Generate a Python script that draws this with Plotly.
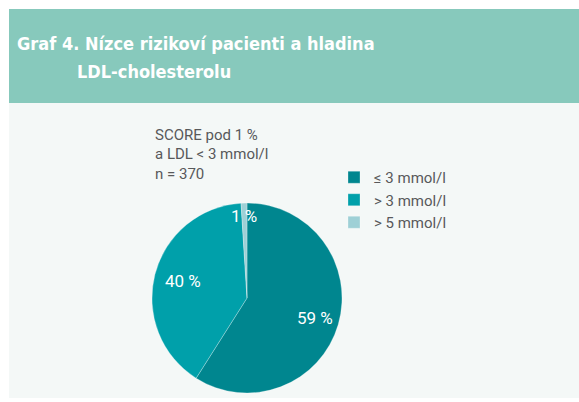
import math
import plotly.graph_objects as go

W, H = 579, 402

categories = ["≤ 3 mmol/l", "> 3 mmol/l", "> 5 mmol/l"]
values = [59, 40, 1]
slice_labels = ["59 %", "40 %", "1 %"]
colors = ["#00868f", "#00a0aa", "#9ed0d6"]

title_line1 = "Graf 4. Nízce rizikoví pacienti a hladina"
title_line2 = "LDL-cholesterolu"
note_lines = ["SCORE pod 1 %", "a LDL < 3 mmol/l", "n = 370"]

def px(x):
    return x / W

def py(y):
    return 1 - y / H

# pie geometry (pixels)
cx, cy, R = 247, 298, 95
label_radius = [0.74, 0.70, 0.86]

fig = go.Figure()
fig.add_trace(go.Pie(
    labels=categories,
    values=values,
    textinfo="none",
    marker=dict(colors=colors, line=dict(width=0.6, color="rgba(255,255,255,0.45)")),
    sort=False,
    direction="clockwise",
    rotation=0,
    domain=dict(x=[px(cx - R), px(cx + R)], y=[py(cy + R), py(cy - R)]),
    showlegend=True,
    hoverinfo="skip",
))

shapes = [
    dict(type="rect", xref="paper", yref="paper", x0=px(9), x1=px(579), y0=py(103), y1=py(9),
         fillcolor="#87c9bc", line=dict(width=0), layer="below"),
    dict(type="rect", xref="paper", yref="paper", x0=px(9), x1=px(579), y0=py(398), y1=py(103),
         fillcolor="#f4f8f7", line=dict(width=0), layer="below"),
]

title_font = dict(size=18, color="white", family="DejaVu Sans Condensed, DejaVu Sans")
annotations = [
    dict(text="<b>" + title_line1 + "</b>", x=px(15), y=py(43), xref="paper", yref="paper",
         xanchor="left", yanchor="middle", showarrow=False, font=title_font),
    dict(text="<b>" + title_line2 + "</b>", x=px(75), y=py(72), xref="paper", yref="paper",
         xanchor="left", yanchor="middle", showarrow=False, font=title_font),
]
for i, line in enumerate(note_lines):
    annotations.append(dict(text=line, x=px(153), y=py(135 + 19.5 * i), xref="paper", yref="paper",
                            xanchor="left", yanchor="middle", showarrow=False,
                            font=dict(size=15, color="#58595b", family="Roboto")))

# slice labels, placed from the data (mid-angle of each slice)
total = sum(values)
cum = 0
for v, lab, rf in zip(values, slice_labels, label_radius):
    mid = (cum + v / 2) / total
    cum += v
    theta = 2 * math.pi * mid
    r = rf * R
    annotations.append(dict(text=lab, x=px(cx + r * math.sin(theta)), y=py(cy - r * math.cos(theta)),
                            xref="paper", yref="paper", xanchor="center", yanchor="middle", showarrow=False,
                            font=dict(size=17, color="white", family="Roboto")))

fig.update_layout(
    width=W, height=H,
    margin=dict(l=0, r=0, t=0, b=0),
    paper_bgcolor="white",
    plot_bgcolor="white",
    shapes=shapes,
    annotations=annotations,
    legend=dict(x=px(334), y=py(161), xanchor="left", yanchor="top",
                font=dict(size=15, color="#58595b", family="Roboto"),
                bgcolor="rgba(0,0,0,0)", itemclick=False, tracegroupgap=0),
)

fig.write_html("out.html", config={"displayModeBar": False},
               post_script="document.body.style.margin='0';")
